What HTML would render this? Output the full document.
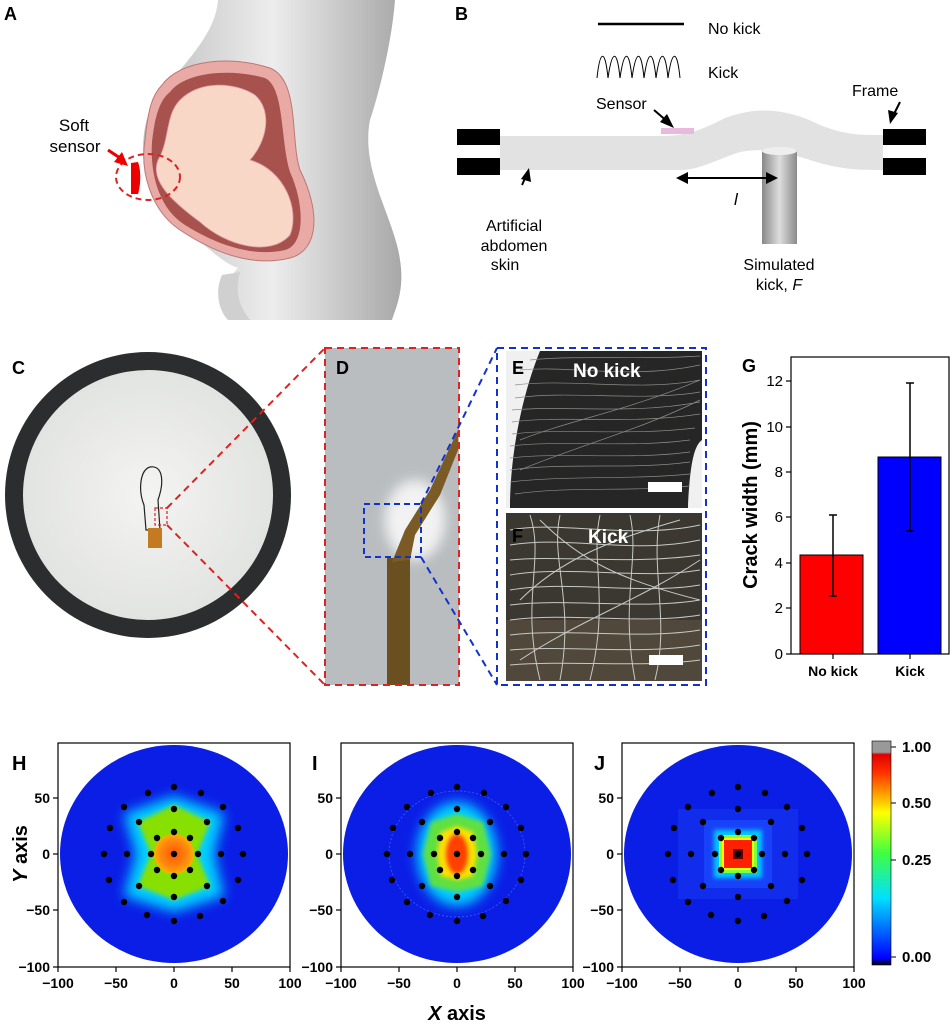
<!DOCTYPE html>
<html><head><meta charset="utf-8"><style>
body{margin:0;background:#fff;}
svg text{font-family:"Liberation Sans",Arial,sans-serif;}
</style></head><body>
<svg width="951" height="1024" viewBox="0 0 951 1024" xmlns="http://www.w3.org/2000/svg">
<defs>
<linearGradient id="body" x1="0" x2="1"><stop offset="0" stop-color="#bdbdbd"/><stop offset="0.5" stop-color="#ededed"/><stop offset="1" stop-color="#a8a8a8"/></linearGradient>
<linearGradient id="cyl" x1="0" x2="1"><stop offset="0" stop-color="#888"/><stop offset="0.5" stop-color="#ddd"/><stop offset="1" stop-color="#8a8a8a"/></linearGradient>
<radialGradient id="plate" cx="0.5" cy="0.5" r="0.5"><stop offset="0" stop-color="#f4f4f2"/><stop offset="1" stop-color="#e2e4e2"/></radialGradient>
<linearGradient id="cbar" x1="0" y1="1" x2="0" y2="0"><stop offset="0" stop-color="#000"/><stop offset="0.03" stop-color="#0000ff"/><stop offset="0.3" stop-color="#00e0ff"/><stop offset="0.5" stop-color="#40ff40"/><stop offset="0.68" stop-color="#ffff00"/><stop offset="0.86" stop-color="#ff3000"/><stop offset="0.94" stop-color="#e00000"/><stop offset="0.95" stop-color="#999"/><stop offset="1" stop-color="#999"/></linearGradient>
<radialGradient id="orH"><stop offset="0" stop-color="#ff5500"/><stop offset="0.7" stop-color="#ff8a10"/><stop offset="1" stop-color="#ffb000"/></radialGradient>
<filter id="bl" x="-50%" y="-50%" width="200%" height="200%"><feGaussianBlur stdDeviation="6"/></filter>
<filter id="bl2" x="-50%" y="-50%" width="200%" height="200%"><feGaussianBlur stdDeviation="2"/></filter>
<g id="dots" fill="#000">
<circle cx="0" cy="0" r="3.2"/>
<circle cx="0" cy="-67" r="3.2"/><circle cx="27" cy="-61" r="3.2"/><circle cx="49" cy="-47" r="3.2"/><circle cx="64" cy="-26" r="3.2"/><circle cx="69" cy="0" r="3.2"/><circle cx="64" cy="26" r="3.2"/><circle cx="49" cy="47" r="3.2"/><circle cx="26" cy="62" r="3.2"/><circle cx="0" cy="67" r="3.2"/><circle cx="-27" cy="61" r="3.2"/><circle cx="-50" cy="48" r="3.2"/><circle cx="-65" cy="26" r="3.2"/><circle cx="-70" cy="0" r="3.2"/><circle cx="-64" cy="-26" r="3.2"/><circle cx="-50" cy="-47" r="3.2"/><circle cx="-26" cy="-61" r="3.2"/>
<circle cx="0" cy="-45" r="3.2"/><circle cx="33" cy="-32" r="3.2"/><circle cx="47" cy="0" r="3.2"/><circle cx="33" cy="32" r="3.2"/><circle cx="0" cy="43" r="3.2"/><circle cx="-35" cy="32" r="3.2"/><circle cx="-47" cy="0" r="3.2"/><circle cx="-35" cy="-32" r="3.2"/>
<circle cx="0" cy="-22" r="3.2"/><circle cx="16" cy="-16" r="3.2"/><circle cx="24" cy="0" r="3.2"/><circle cx="16" cy="16" r="3.2"/><circle cx="0" cy="22" r="3.2"/><circle cx="-17" cy="16" r="3.2"/><circle cx="-23" cy="0" r="3.2"/><circle cx="-17" cy="-16" r="3.2"/>
</g>
<g id="axes" font-size="14" font-weight="bold" fill="#000">
<rect x="-116" y="-111" width="232" height="224" fill="none" stroke="#000" stroke-width="1.2"/>
<g stroke="#000" stroke-width="1.2">
<line x1="-116" y1="113" x2="-116" y2="118"/><line x1="-58" y1="113" x2="-58" y2="118"/><line x1="0" y1="113" x2="0" y2="118"/><line x1="58" y1="113" x2="58" y2="118"/><line x1="116" y1="113" x2="116" y2="118"/>
<line x1="-116" y1="-56" x2="-121" y2="-56"/><line x1="-116" y1="0" x2="-121" y2="0"/><line x1="-116" y1="56" x2="-121" y2="56"/><line x1="-116" y1="113" x2="-121" y2="113"/>
</g>
<text x="-116" y="134" text-anchor="middle">−100</text><text x="-58" y="134" text-anchor="middle">−50</text><text x="0" y="134" text-anchor="middle">0</text><text x="58" y="134" text-anchor="middle">50</text><text x="116" y="134" text-anchor="middle">100</text>
<text x="-124" y="-51" text-anchor="end">50</text><text x="-124" y="5" text-anchor="end">0</text><text x="-124" y="61" text-anchor="end">−50</text><text x="-124" y="118" text-anchor="end">−100</text>
</g>
<clipPath id="cE"><rect x="506" y="351" width="196" height="157"/></clipPath>
<clipPath id="cF"><rect x="506" y="513" width="196" height="168"/></clipPath>
</defs>

<!-- Panel A -->
<text x="4" y="20" font-size="18" font-weight="bold">A</text>
<path d="M218,0 L395,0 C392,40 380,90 370,120 C360,170 395,220 400,260 C405,290 395,310 392,320 L240,320 C230,300 225,280 238,268 C220,262 200,240 170,215 C140,185 138,140 150,110 C175,70 215,40 218,0 Z" fill="url(#body)"/>
<path d="M222,275 C215,290 218,310 228,320 L250,320 C238,305 235,290 240,272 Z" fill="#d0d0d0"/>
<path d="M162,85 C180,60 230,55 270,68 C300,80 290,140 300,170 C320,210 320,250 290,258 C250,268 210,250 180,230 C150,210 140,170 145,140 C148,110 152,95 162,85 Z" fill="#e9a9a4" stroke="#b77" stroke-width="1"/>
<path d="M170,92 C185,72 230,68 265,78 C285,88 280,140 290,172 C305,205 305,245 285,250 C250,258 212,242 185,225 C158,208 150,172 152,142 C155,115 160,100 170,92 Z" fill="#a8524e"/>
<path d="M180,100 C200,80 235,82 255,95 C272,110 268,140 250,160 C285,170 300,210 290,235 C270,258 225,245 200,222 C170,200 150,180 158,160 C170,140 165,115 180,100 Z" fill="#f9d7c6" stroke="#d9a" stroke-width="0.8"/>
<ellipse cx="148" cy="177" rx="32" ry="23" fill="none" stroke="#d22" stroke-width="2" stroke-dasharray="6,4"/>
<path d="M131,163 L138,162 C141,170 141,184 138,194 L131,194 Z" fill="#e00"/>
<text x="74" y="131" font-size="17" text-anchor="middle">Soft</text>
<text x="75" y="152" font-size="17" text-anchor="middle">sensor</text>
<line x1="108" y1="150" x2="123" y2="160" stroke="#e00" stroke-width="3"/><path d="M128,166 L114,162 L122,152 Z" fill="#e00"/>

<!-- Panel B -->
<text x="455" y="20" font-size="18" font-weight="bold">B</text>
<line x1="598" y1="24" x2="684" y2="24" stroke="#000" stroke-width="2.5"/>
<text x="708" y="34" font-size="16">No kick</text>
<path d="M597,78 C600,50 605,48 608,78 C612,50 617,48 620,78 C624,50 629,48 632,78 C636,50 641,48 644,78 C648,50 653,48 656,78 C660,50 665,48 668,78 C672,50 677,48 680,78" fill="none" stroke="#000" stroke-width="1"/>
<text x="708" y="78" font-size="16">Kick</text>
<path d="M500,136 L660,136 C690,136 705,128 725,118 C760,105 790,110 820,125 C845,135 860,135 883,135 L883,170 C860,170 840,170 810,160 C780,150 760,148 740,152 C715,160 700,170 680,170 L500,170 Z" fill="#e2e2e2"/>
<rect x="457" y="129" width="43" height="16" fill="#000"/><rect x="457" y="158" width="43" height="17" fill="#000"/>
<rect x="883" y="129" width="43" height="16" fill="#000"/><rect x="883" y="158" width="43" height="17" fill="#000"/>
<rect x="661" y="128" width="33" height="6" fill="#e8b8dd"/>
<rect x="762" y="150" width="35" height="94" fill="url(#cyl)"/>
<ellipse cx="779.5" cy="151" rx="17.5" ry="4" fill="#eee"/>
<text x="596" y="109" font-size="16">Sensor</text>
<line x1="654" y1="110" x2="668" y2="122" stroke="#000" stroke-width="2"/><path d="M674,128 L660,122 L667,114 Z"/>
<text x="852" y="96" font-size="16">Frame</text>
<line x1="900" y1="102" x2="893" y2="116" stroke="#000" stroke-width="2"/><path d="M890,124 L888,110 L898,113 Z"/>
<line x1="682" y1="178" x2="770" y2="178" stroke="#000" stroke-width="2"/><path d="M676,178 L688,172 L688,184 Z"/><path d="M778,178 L766,172 L766,184 Z"/>
<text x="734" y="205" font-size="17" font-style="italic">l</text>
<line x1="522" y1="185" x2="527" y2="174" stroke="#000" stroke-width="2"/><path d="M529,168 L531,182 L521,179 Z"/>
<text x="514" y="231" font-size="16" text-anchor="middle">Artificial</text>
<text x="514" y="251" font-size="16" text-anchor="middle">abdomen</text>
<text x="505" y="270" font-size="16" text-anchor="middle">skin</text>
<text x="779" y="270" font-size="16" text-anchor="middle">Simulated</text>
<text x="779" y="290" font-size="16" text-anchor="middle">kick, <tspan font-style="italic">F</tspan></text>

<!-- Panel C -->
<text x="12" y="374" font-size="18" font-weight="bold">C</text>
<circle cx="148" cy="495" r="143" fill="#2b2d2e"/>
<circle cx="148" cy="495" r="125" fill="url(#plate)"/>
<path d="M144,505 C138,490 140,470 150,467 C162,465 165,480 158,500 L160,530 L146,530 Z" fill="none" stroke="#222" stroke-width="1.2"/>
<rect x="148" y="528" width="14" height="20" fill="#c47a20"/>
<rect x="155" y="508" width="12" height="17" fill="none" stroke="#d22" stroke-width="1.2" stroke-dasharray="3,2"/>
<line x1="167" y1="508" x2="325" y2="348" stroke="#d22" stroke-width="2" stroke-dasharray="7,5"/>
<line x1="167" y1="525" x2="325" y2="685" stroke="#d22" stroke-width="2" stroke-dasharray="7,5"/>

<!-- Panel D -->
<rect x="325" y="348" width="134" height="337" fill="#b9bdbf"/>
<ellipse cx="415" cy="520" rx="30" ry="40" fill="#f2f2f2" filter="url(#bl)"/>
<path d="M387,558 L410,558 L410,685 L387,685 Z" fill="#6a5020"/>
<path d="M392,562 L405,530 L430,490 L458,430 L458,450 L440,495 L415,535 L410,560 Z" fill="#7a5a25"/>
<rect x="364" y="504" width="57" height="53" fill="none" stroke="#1133cc" stroke-width="2" stroke-dasharray="6,4"/>
<rect x="325" y="348" width="134" height="337" fill="none" stroke="#d22" stroke-width="2" stroke-dasharray="7,5"/>
<text x="336" y="374" font-size="18" font-weight="bold">D</text>
<line x1="421" y1="504" x2="497" y2="348" stroke="#1133cc" stroke-width="2" stroke-dasharray="7,5"/>
<line x1="421" y1="557" x2="497" y2="685" stroke="#1133cc" stroke-width="2" stroke-dasharray="7,5"/>

<!-- Panel E/F -->
<rect x="506" y="351" width="196" height="157" fill="#f0f0f0"/>
<path d="M540,351 L702,351 L702,440 C695,445 690,460 688,508 L510,508 C510,460 520,400 540,351 Z" fill="#262626"/>
<g clip-path="url(#cE)" stroke="#8c8c88" stroke-width="0.7" fill="none">
<path d="M520,370 C570,365 630,380 700,365"/><path d="M515,385 C570,378 640,392 700,380"/><path d="M515,398 C570,390 640,402 700,392"/><path d="M512,410 C570,405 630,415 700,402"/><path d="M512,422 C560,415 630,425 700,414"/><path d="M512,434 C560,428 630,436 695,428"/><path d="M510,446 C560,440 630,448 690,440"/><path d="M510,458 C560,452 630,460 690,452"/><path d="M510,470 C570,462 630,470 690,462"/><path d="M510,482 C570,475 630,480 690,474"/><path d="M515,494 C570,486 630,492 690,486"/><path d="M530,360 C580,355 640,360 700,356"/><path d="M520,440 C570,420 630,410 700,380"/><path d="M520,470 C580,445 640,430 700,400"/>
</g>
<rect x="506" y="513" width="196" height="168" fill="#3a3830"/>
<rect x="506" y="620" width="196" height="61" fill="#5a5040" opacity="0.7"/>
<g clip-path="url(#cF)" stroke="#c8c8c4" stroke-width="1" fill="none">
<path d="M510,530 C560,520 630,540 700,525"/><path d="M510,545 C570,535 630,555 700,540"/><path d="M510,560 C560,555 630,565 700,555"/><path d="M510,575 C570,565 640,580 700,570"/><path d="M510,590 C570,580 640,595 700,585"/><path d="M510,605 C570,598 640,610 700,600"/><path d="M510,620 C570,612 640,625 700,615"/><path d="M510,635 C570,628 640,640 700,630"/><path d="M510,650 C570,645 640,655 700,645"/><path d="M510,665 C570,660 640,668 700,660"/>
<path d="M530,515 C545,560 520,600 540,680"/><path d="M560,515 C550,560 575,600 560,680"/><path d="M600,515 C590,560 610,600 590,680"/><path d="M630,515 C640,560 620,600 635,680"/><path d="M660,515 C650,570 670,620 655,680"/><path d="M520,600 C560,560 610,540 680,520"/><path d="M520,660 C580,620 640,600 700,560"/><path d="M540,520 C580,560 620,580 700,600"/>
</g>
<rect x="648" y="482" width="34" height="10" fill="#fff"/>
<rect x="649" y="655" width="34" height="10" fill="#fff"/>
<rect x="497" y="348" width="209" height="337" fill="none" stroke="#1133cc" stroke-width="2" stroke-dasharray="7,5"/>
<text x="512" y="374" font-size="18" font-weight="bold">E</text>
<text x="512" y="542" font-size="18" font-weight="bold">F</text>
<text x="573" y="377" font-size="19" font-weight="bold" fill="#fff">No kick</text>
<text x="588" y="543" font-size="19" font-weight="bold" fill="#fff">Kick</text>

<!-- Panel G -->
<text x="742" y="372" font-size="18" font-weight="bold">G</text>
<rect x="791" y="357" width="158" height="297" fill="none" stroke="#000" stroke-width="1.2"/>
<rect x="800" y="555" width="63" height="99" fill="#ff0000" stroke="#000" stroke-width="1"/>
<rect x="878" y="457" width="63" height="197" fill="#0000ff" stroke="#000" stroke-width="1"/>
<g stroke="#000" stroke-width="1.5">
<line x1="833" y1="515" x2="833" y2="596"/><line x1="829" y1="515" x2="837" y2="515"/><line x1="829" y1="596" x2="837" y2="596"/>
<line x1="910" y1="383" x2="910" y2="531"/><line x1="906" y1="383" x2="914" y2="383"/><line x1="906" y1="531" x2="914" y2="531"/>
</g>
<g stroke="#000" stroke-width="1.2">
<line x1="791" y1="654" x2="786" y2="654"/><line x1="791" y1="608" x2="786" y2="608"/><line x1="791" y1="563" x2="786" y2="563"/><line x1="791" y1="517" x2="786" y2="517"/><line x1="791" y1="472" x2="786" y2="472"/><line x1="791" y1="427" x2="786" y2="427"/><line x1="791" y1="381" x2="786" y2="381"/>
<line x1="833" y1="654" x2="833" y2="659"/><line x1="910" y1="654" x2="910" y2="659"/>
</g>
<g font-size="15" text-anchor="end">
<text x="783" y="659">0</text><text x="783" y="613">2</text><text x="783" y="568">4</text><text x="783" y="522">6</text><text x="783" y="477">8</text><text x="783" y="432">10</text><text x="783" y="386">12</text>
</g>
<text x="833" y="676" font-size="14" font-weight="bold" text-anchor="middle">No kick</text>
<text x="910" y="676" font-size="14" font-weight="bold" text-anchor="middle">Kick</text>
<text transform="translate(757,505) rotate(-90)" font-size="20" font-weight="bold" text-anchor="middle">Crack width (mm)</text>

<!-- Panel H -->
<g transform="translate(174,854)">
<use href="#axes"/>
<ellipse rx="114" ry="109" fill="#0a1ee6"/>
<g filter="url(#bl)"><path d="M-50,-40 L0,-58 L50,-40 L40,0 L50,42 L0,58 L-50,42 L-38,0 Z" fill="#00d0ff"/></g>
<path d="M-36,-32 L0,-49 L36,-32 L23,0 L36,32 L0,46 L-36,32 L-23,0 Z" fill="#88e000" filter="url(#bl2)"/>
<circle r="20" fill="url(#orH)"/>
<use href="#dots"/>
</g>
<text x="12" y="770" font-size="20" font-weight="bold">H</text>

<!-- Panel I -->
<g transform="translate(457,854)">
<use href="#axes"/>
<ellipse rx="114" ry="109" fill="#0a1ee6"/>
<ellipse rx="68" ry="63" fill="none" stroke="#3a60ff" stroke-width="0.8" stroke-dasharray="2,2"/>
<g filter="url(#bl)"><ellipse rx="40" ry="52" fill="#00d0ff"/></g>
<path d="M-26,-32 L0,-40 L26,-32 L34,0 L26,32 L0,38 L-26,32 L-34,0 Z" fill="#60e040" filter="url(#bl2)"/>
<path d="M-16,-22 L0,-28 L16,-22 L20,0 L16,22 L0,26 L-16,22 L-20,0 Z" fill="#ffe000" filter="url(#bl2)"/>
<ellipse rx="11" ry="20" fill="#ff4000" filter="url(#bl2)"/>
<use href="#dots"/>
</g>
<text x="312" y="770" font-size="20" font-weight="bold">I</text>

<!-- Panel J -->
<g transform="translate(738,854)">
<use href="#axes"/>
<ellipse rx="114" ry="109" fill="#0a1ee6"/>
<path d="M-60,-45 L60,-45 L60,45 L-60,45 Z" fill="#1836f0" opacity="0.6"/>
<rect x="-34" y="-34" width="68" height="68" fill="#1a4cff" opacity="0.7"/>
<rect x="-24" y="-24" width="48" height="48" fill="#00c8ff" filter="url(#bl2)"/>
<rect x="-19" y="-19" width="38" height="38" fill="#80ff40"/>
<rect x="-16" y="-16" width="32" height="32" fill="#ffff00"/>
<rect x="-14" y="-14" width="28" height="28" fill="#ff2000"/>
<rect x="-5" y="-5" width="10" height="10" fill="#600"/>
<use href="#dots"/>
</g>
<text x="594" y="770" font-size="20" font-weight="bold">J</text>

<!-- colorbar -->
<rect x="872" y="741" width="19" height="224" fill="url(#cbar)" stroke="#000" stroke-width="0.6"/>
<g font-size="15" font-weight="bold">
<text x="902" y="752">1.00</text><text x="902" y="808">0.50</text><text x="902" y="865">0.25</text><text x="902" y="962">0.00</text>
</g>
<g stroke="#000"><line x1="891" y1="747" x2="896" y2="747"/><line x1="891" y1="803" x2="896" y2="803"/><line x1="891" y1="860" x2="896" y2="860"/><line x1="891" y1="957" x2="896" y2="957"/></g>

<text transform="translate(27,854) rotate(-90)" font-size="20" font-weight="bold" text-anchor="middle"><tspan font-style="italic">Y</tspan> axis</text>
<text x="457" y="1020" font-size="20" font-weight="bold" text-anchor="middle"><tspan font-style="italic">X</tspan> axis</text>
</svg>
</body></html>
